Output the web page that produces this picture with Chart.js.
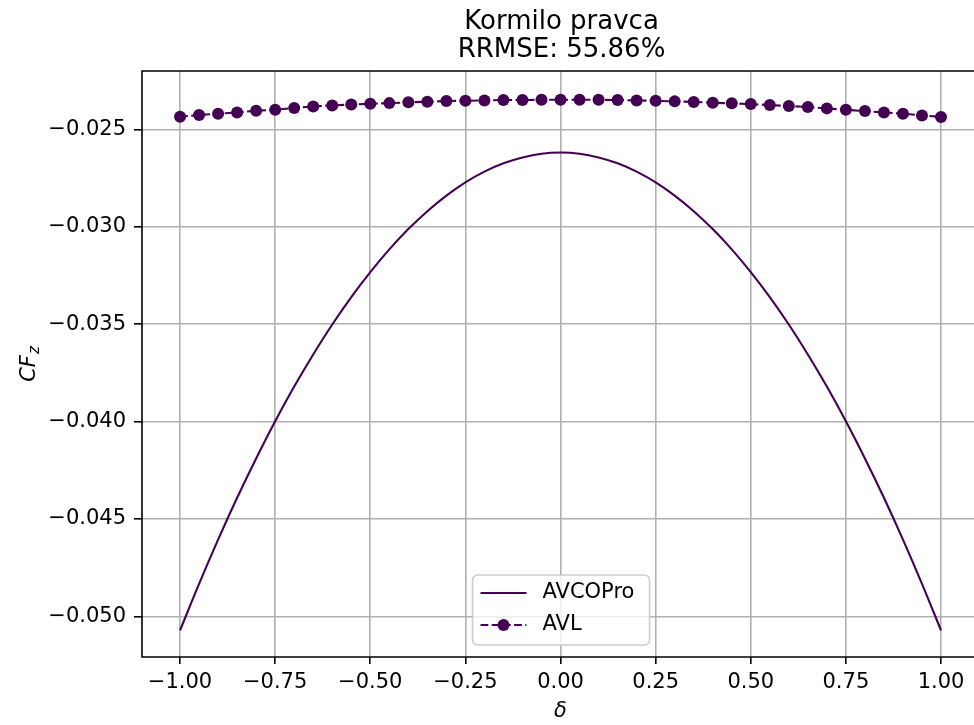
<!DOCTYPE html>
<html><head><meta charset="utf-8">
<script src="https://cdn.jsdelivr.net/npm/chart.js@4/dist/chart.umd.min.js"></script>
<style>html,body{margin:0;padding:0;background:#fff}#wrap{width:974px;height:725px;overflow:hidden}</style>
</head><body><div id="wrap"><canvas id="c" width="974" height="725"></canvas></div>
<script>
// ---- data ----
const titleLines = ['Kormilo pravca', 'RRMSE: 55.86%'];
const seriesNames = ['AVCOPro', 'AVL'];
const xAxisLabel = 'δ';
const yAxisLabelMain = 'CF';
const yAxisLabelSub = 'z';
const xTickValues = [-1.00, -0.75, -0.50, -0.25, 0.00, 0.25, 0.50, 0.75, 1.00];
const yTickValues = [-0.050, -0.045, -0.040, -0.035, -0.030, -0.025];
const xLimits = [-1.1, 1.0867];   // the reference image is cut off at the right edge
const yLimits = [-0.05209, -0.02199];

const deltaAVCOPro = [-1.00,-0.95,-0.90,-0.85,-0.80,-0.75,-0.70,-0.65,-0.60,-0.55,-0.50,-0.45,-0.40,-0.35,-0.30,-0.25,-0.20,-0.15,-0.10,-0.05,0.00,
  0.05,0.10,0.15,0.20,0.25,0.30,0.35,0.40,0.45,0.50,0.55,0.60,0.65,0.70,0.75,0.80,0.85,0.90,0.95,1.00];
const cfzAVCOPro = [-0.05072,-0.04833,-0.04606,-0.04391,-0.04189,-0.03998,-0.03820,-0.03655,-0.03501,-0.03360,-0.03232,-0.03115,-0.03011,-0.02919,-0.02839,-0.02771,-0.02716,-0.02673,-0.02643,-0.02624,-0.02618,
  -0.02624,-0.02643,-0.02673,-0.02716,-0.02771,-0.02839,-0.02919,-0.03011,-0.03115,-0.03232,-0.03360,-0.03501,-0.03655,-0.03820,-0.03998,-0.04189,-0.04391,-0.04606,-0.04833,-0.05072];

const deltaAVL = [-1.00,-0.95,-0.90,-0.85,-0.80,-0.75,-0.70,-0.65,-0.60,-0.55,-0.50,-0.45,-0.40,-0.35,-0.30,-0.25,-0.20,-0.15,-0.10,-0.05,0.00,
  0.05,0.10,0.15,0.20,0.25,0.30,0.35,0.40,0.45,0.50,0.55,0.60,0.65,0.70,0.75,0.80,0.85,0.90,0.95,1.00];
const cfzAVL = [-0.02434,-0.02425,-0.02418,-0.02412,-0.02403,-0.02398,-0.02389,-0.02381,-0.02376,-0.02371,-0.02367,-0.02364,-0.02360,-0.02357,-0.02353,-0.02352,-0.02350,-0.02348,-0.02348,-0.02347,-0.02347,
  -0.02347,-0.02347,-0.02348,-0.02350,-0.02352,-0.02355,-0.02358,-0.02362,-0.02365,-0.02369,-0.02374,-0.02379,-0.02384,-0.02391,-0.02398,-0.02405,-0.02412,-0.02418,-0.02427,-0.02435];

// ---- styling ----
const PURPLE = '#440154';
const FONT = '"DejaVu Sans", sans-serif';
const TICK_PX = 21;
const LINE_W = 2.1;
const DASH = [7.8, 3.4];

function fmt(v, d) {
  const s = Math.abs(v).toFixed(d);
  return (v < -1e-12 ? '\u2212' : '') + s;
}

const extras = {
  id: 'extras',
  afterDatasetsDraw(chart) {
    const ctx = chart.ctx, a = chart.chartArea;
    const cx = chart.scales.x.getPixelForValue(0);
    ctx.save();
    // spines (left, top, bottom; right one lies outside the cropped image)
    ctx.strokeStyle = '#000';
    ctx.lineWidth = 1.6;
    ctx.beginPath();
    ctx.moveTo(a.right + 2, a.top); ctx.lineTo(a.left, a.top);
    ctx.lineTo(a.left, a.bottom); ctx.lineTo(a.right + 2, a.bottom);
    ctx.stroke();

    // legend (lower centre of the axes)
    const bx = cx - 88, by = a.bottom - 82, bw = 177, bh = 70, r = 5;
    ctx.beginPath();
    ctx.moveTo(bx + r, by);
    ctx.arcTo(bx + bw, by, bx + bw, by + bh, r);
    ctx.arcTo(bx + bw, by + bh, bx, by + bh, r);
    ctx.arcTo(bx, by + bh, bx, by, r);
    ctx.arcTo(bx, by, bx + bw, by, r);
    ctx.closePath();
    ctx.fillStyle = 'rgba(255,255,255,0.8)';
    ctx.fill();
    ctx.strokeStyle = '#cccccc';
    ctx.lineWidth = 1.6;
    ctx.stroke();

    const lx1 = bx + 8, lx2 = bx + 54, tx = bx + 70;
    const row1 = by + 18, row2 = by + 50;
    ctx.strokeStyle = PURPLE;
    ctx.lineWidth = LINE_W;
    ctx.beginPath(); ctx.moveTo(lx1, row1); ctx.lineTo(lx2, row1); ctx.stroke();
    ctx.setLineDash(DASH);
    ctx.beginPath(); ctx.moveTo(lx1, row2); ctx.lineTo(lx2, row2); ctx.stroke();
    ctx.setLineDash([]);
    ctx.fillStyle = PURPLE;
    ctx.beginPath(); ctx.arc((lx1 + lx2) / 2, row2, 6, 0, Math.PI * 2); ctx.fill();

    ctx.fillStyle = '#000';
    ctx.font = TICK_PX + 'px ' + FONT;
    ctx.textBaseline = 'middle';
    ctx.textAlign = 'left';
    ctx.fillText(seriesNames[0], tx, row1);
    ctx.fillText(seriesNames[1], tx, row2);

    // title (centred over the axes, like the reference)
    ctx.font = '26px ' + FONT;
    ctx.textAlign = 'center';
    ctx.fillText(titleLines[0], cx + 1, 22);
    ctx.fillText(titleLines[1], cx + 1, 50);

    // x axis label
    ctx.font = 'italic ' + TICK_PX + 'px ' + FONT;
    ctx.fillText(xAxisLabel, cx, 712);

    // y axis label (rotated, with subscript)
    ctx.translate(30, (a.top + a.bottom) / 2);
    ctx.rotate(-Math.PI / 2);
    ctx.font = 'italic ' + TICK_PX + 'px ' + FONT;
    const wMain = ctx.measureText(yAxisLabelMain).width;
    ctx.font = 'italic 15px ' + FONT;
    const wSub = ctx.measureText(yAxisLabelSub).width;
    const total = wMain + wSub + 1;
    ctx.textAlign = 'left';
    ctx.font = 'italic ' + TICK_PX + 'px ' + FONT;
    ctx.fillText(yAxisLabelMain, -total / 2, 0);
    ctx.font = 'italic 15px ' + FONT;
    ctx.fillText(yAxisLabelSub, -total / 2 + wMain + 1, 5);
    ctx.restore();
  }
};

const chart = new Chart(document.getElementById('c'), {
  type: 'line',
  data: {
    datasets: [
      {
        label: seriesNames[0],
        data: deltaAVCOPro.map((x, i) => ({ x, y: cfzAVCOPro[i] })),
        borderColor: PURPLE,
        borderWidth: LINE_W,
        pointRadius: 0,
        pointHoverRadius: 0,
        cubicInterpolationMode: 'monotone',
        fill: false
      },
      {
        label: seriesNames[1],
        data: deltaAVL.map((x, i) => ({ x, y: cfzAVL[i] })),
        borderColor: PURPLE,
        borderWidth: LINE_W,
        borderDash: DASH,
        pointRadius: 6,
        pointHoverRadius: 6,
        pointBackgroundColor: PURPLE,
        pointBorderColor: PURPLE,
        pointBorderWidth: 0,
        tension: 0,
        fill: false
      }
    ]
  },
  options: {
    responsive: false,
    animation: false,
    devicePixelRatio: 1,
    events: [],
    layout: { autoPadding: false, padding: { left: 0, right: 0, top: 71, bottom: 0 } },
    plugins: {
      legend: { display: false },
      tooltip: { enabled: false },
      title: { display: false }
    },
    scales: {
      x: {
        type: 'linear',
        min: xLimits[0], max: xLimits[1],
        afterFit(s) { s.height = 68; s.paddingLeft = 0; s.paddingRight = 0; },
        afterBuildTicks(s) { s.ticks = xTickValues.map(v => ({ value: v })); },
        border: { display: false },
        grid: { color: '#b0b0b0', lineWidth: 1.6, tickColor: '#000', tickWidth: 1.6, tickLength: 7, drawTicks: true },
        ticks: {
          color: '#000', font: { family: FONT, size: TICK_PX }, padding: 6,
          maxRotation: 0, autoSkip: false,
          callback: v => fmt(v, 2)
        }
      },
      y: {
        type: 'linear',
        min: yLimits[0], max: yLimits[1],
        afterFit(s) { s.width = 142; s.paddingTop = 0; s.paddingBottom = 0; },
        afterBuildTicks(s) { s.ticks = yTickValues.map(v => ({ value: v })); },
        border: { display: false },
        grid: { color: '#b0b0b0', lineWidth: 1.6, tickColor: '#000', tickWidth: 1.6, tickLength: 8, drawTicks: true },
        ticks: {
          color: '#000', font: { family: FONT, size: TICK_PX }, padding: 8,
          autoSkip: false,
          callback: v => fmt(v, 3)
        }
      }
    }
  },
  plugins: [extras]
});
</script>
</body></html>
